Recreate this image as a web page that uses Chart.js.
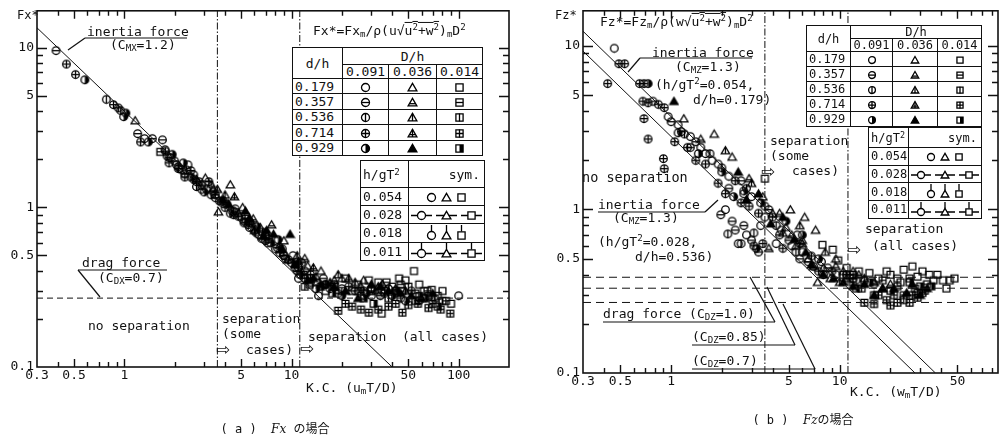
<!DOCTYPE html>
<html>
<head>
<meta charset="utf-8">
<script src="https://cdn.jsdelivr.net/npm/chart.js@4.4.1/dist/chart.umd.min.js"></script>
<style>
    body { margin: 0; width: 1006px; height: 441px; position: relative; overflow: hidden; background: #fff; color: #111; font-family: 'DejaVu Sans Mono', monospace; }
    canvas.plot { position: absolute; top: 0; }
    .t { position: absolute; white-space: nowrap; font-size: 13px; line-height: 1; transform: translateY(-50%); }
    .t sub { font-size: 70%; vertical-align: -2px; }
    .t sup { font-size: 70%; vertical-align: 5px; }
    .t.arrow { font-family: 'DejaVu Sans', sans-serif; }
    .ol { text-decoration: overline; }
    table.leg { position: absolute; border-collapse: collapse; background: #fff; font-size: 13px; table-layout: fixed; }
    table.leg td { border: 1.4px solid #111; text-align: center; padding: 0; line-height: 1; white-space: nowrap; overflow: hidden; }
    table.leg td.num { text-align: left; padding-left: 2px; }
    table.leg img { vertical-align: middle; margin: 0 2px; display: inline-block; }
    table.small { font-size: 12px; }
    table.leg sup { font-size: 70%; vertical-align: 4px; }
    .cap { position: absolute; font-size: 12px; white-space: nowrap; transform: translate(-50%, -50%); }
    .cap i { font-family: 'DejaVu Serif', serif; }
    .cap .jp { font-family: 'Noto Sans CJK JP', sans-serif; }
    svg { position: absolute; left: 0; top: 0; pointer-events: none; }
</style>
</head>
<body>
<canvas id="fxChart" class="plot" width="520" height="405" style="left:0"></canvas>
<canvas id="fzChart" class="plot" width="466" height="410" style="left:540px"></canvas>
<svg id="leaders" width="1006" height="441"></svg>

<script>
// ---- axis ticks / labels ----
const kcTicks = [0.3, 0.4, 0.5, 0.6, 0.7, 0.8, 0.9, 1, 2, 3, 4, 5, 6, 7, 8, 9, 10, 20, 30, 40, 50, 60, 70, 80, 90, 100, 200];
const kcLabels = [0.3, 0.5, 1, 5, 10, 50, 100];
const fTicks = [0.1, 0.2, 0.3, 0.4, 0.5, 0.6, 0.7, 0.8, 0.9, 1, 2, 3, 4, 5, 6, 7, 8, 9, 10];
const fLabels = [0.1, 0.5, 1, 5, 10];

// ---- legend table text ----
const dhValues = ['0.179', '0.357', '0.536', '0.714', '0.929'];
const bigDValues = ['0.091', '0.036', '0.014'];
const hgValues = ['0.054', '0.028', '0.018', '0.011'];

// ---- Fx* data  [K.C., Fx*] ----
const fxCircle = [[1.32,2.7],[1.9,2.05],[2.2,1.72],[2.4,1.85],[2.8,1.45],[3.1,1.3],[4.1,1.05],[5.0,0.88],[6.3,0.68],[8.0,0.55],[10.2,0.5],[12,0.4],[14.5,0.28],[18,0.33],[24,0.3],[38,0.31],[100,0.28],
    [1.75,2.3],[2.05,1.85],[2.6,1.6],[3.4,1.25],[4.4,0.95],[5.6,0.75],[7.0,0.66],[9.2,0.48],[11,0.36],[20,0.31],[30,0.28]];
const fxCircleH = [[0.39,9.6],[1.2,2.9],[1.47,2.7],[1.69,2.65],[2.0,1.95],[2.3,1.62],[2.6,1.5],[3.5,1.15],[4.6,0.98],[6.0,0.72],[7.2,0.6],[9.0,0.5],[11.5,0.45],[15.5,0.36],[25,0.3],[34,0.28],[52,0.3],
    [1.85,2.05],[2.15,1.75],[2.9,1.3],[3.8,1.08],[5.2,0.8],[6.6,0.64],[8.2,0.56],[10.5,0.42],[13,0.34],[19,0.29],[42,0.3]];
const fxCircleV = [[0.78,4.75],[0.95,4.05],[1.8,2.1],[2.1,1.8],[2.35,1.72],[2.7,1.35],[3.3,1.2],[3.9,1.1],[4.5,0.95],[5.6,0.8],[7.0,0.62],[8.8,0.55],[11,0.42],[13,0.36],[17,0.31],[30,0.31],[45,0.27]];
const fxCirclePlus = [[0.45,7.9],[0.51,6.8],[0.86,4.4],[0.92,4.2],[1.25,2.57],[1.76,2.25],[1.85,1.9],[2.1,1.75],[2.5,1.7],[2.9,1.38],[3.2,1.45],[4.0,1.0],[4.8,0.88],[5.5,0.78],[6.7,0.7],[8.5,0.52],[9.6,0.47],[13,0.38],[16,0.33],[22,0.32],[36,0.29],[58,0.26],
    [2.3,1.55],[2.7,1.45],[3.5,1.2],[4.5,0.9],[6.1,0.7],[7.3,0.64],[9,0.5],[10.8,0.4],[12,0.36],[27,0.3]];
const fxCircleHalf = [[0.58,6.3],[0.99,3.7],[1.02,3.9],[1.39,2.57],[1.93,2.15],[2.25,1.9],[2.5,1.55],[3.0,1.25],[3.7,1.1],[4.3,0.92],[5.2,0.82],[6.2,0.76],[7.5,0.6],[8.3,0.63],[10,0.45],[11.2,0.38],[14,0.31],[16,0.33],[20,0.28],[28,0.29],[40,0.28],[48,0.26]];
const fxTri = [[1.16,3.5],[3.05,1.53],[3.65,0.94],[4.3,1.39],[5.1,1.0],[6.5,0.75],[9.0,0.62],[12.5,0.43],[15,0.4],[20,0.36],[27,0.35],[35,0.33]];
const fxTriH = [[2.7,1.5],[3.4,1.3],[4.8,0.92],[5.9,0.85],[7.6,0.78],[9.5,0.47],[12,0.48],[18,0.35],[26,0.32],[42,0.31]];
const fxTriV = [[3.3,1.4],[4.0,1.2],[6.0,0.72],[7.0,0.7],[10.8,0.5],[14,0.37],[19,0.38],[24,0.34],[33,0.32]];
const fxTriPlus = [[3.6,1.3],[4.55,1.17],[5.8,0.8],[8.5,0.58],[11.5,0.4],[13.5,0.42],[17,0.34],[22,0.36],[32,0.3],[48,0.3]];
const fxTriFill = [[4.2,1.05],[5.3,0.95],[6.8,0.66],[7.8,0.68],[9.8,0.68],[10.5,0.44],[12.5,0.35],[13.5,0.36],[18,0.32],[21,0.3],[25,0.27],[30,0.33],[38,0.3],[45,0.29],[60,0.27],[70,0.29],
    [3.9,1.12],[5.6,0.86],[7.1,0.72],[8.8,0.55],[11,0.46],[15,0.33],[34,0.32],[52,0.28]];
const fxSq = [[12.8,0.33],[16,0.3],[21,0.36],[25,0.33],[29,0.35],[33,0.34],[34.6,0.217],[40,0.32],[44,0.36],[48,0.35],[54,0.40],[62,0.3],[69,0.305],[75,0.28],[90,0.25],
    [14,0.34],[18,0.32],[36,0.3],[46,0.3],[58,0.33],[66,0.28],[80,0.3]];
const fxSqH = [[1.64,2.23],[5.3,0.85],[11.8,0.38],[23,0.3],[30,0.3],[37,0.34],[45,0.33],[55,0.29],[65,0.3],[84,0.26]];
const fxSqV = [[12,0.32],[20,0.3],[26,0.28],[38,0.27],[50,0.32],[55,0.26],[72,0.27],[80,0.26]];
const fxSqPlus = [[19,0.226],[23,0.24],[29,0.22],[33,0.23],[42,0.25],[50,0.245],[57,0.25],[66,0.235],[78,0.23],[89,0.217],
    [21,0.25],[26,0.23],[38,0.24],[46,0.22],[70,0.25]];
const fxSqHalf = [[15,0.32],[17.5,0.29],[27,0.27],[31,0.25],[42,0.3],[58,0.28],[63,0.27],[75,0.24]];

// Fx reference lines
const fxInertiaX = [0.3, 40];
const fxInertiaY = [13.3, 0.1];
const fxDragY = 0.27;

// ---- Fz* data  [K.C., Fz*] ----
const fzCircle = [[0.46,9.7],[0.96,3.7],[1.1,3.3],[1.3,2.8],[1.5,2.4],[1.75,2.0],[2.2,1.6],[2.5,0.62],[2.7,1.25],[3.0,1.2],[3.4,0.8],[4.5,0.75],[5.2,0.6],[6,0.55],[7,0.45],
    [1.6,2.2],[1.9,1.9],[2.1,1.0],[2.8,0.7],[3.6,0.9],[4.2,0.62],[5.6,0.7],[7.8,0.48],[9.5,0.4],[12.5,0.37]];
const fzCircleH = [[0.78,4.6],[1.0,3.45],[1.15,3.0],[1.4,2.6],[1.97,0.93],[2.3,0.85],[2.6,1.5],[2.4,0.75],[3.3,0.55],[3.8,1.0],[5,0.65],[6.5,0.48],
    [1.3,2.4],[2.2,1.35],[2.7,0.8],[3.0,0.65],[4.4,0.7],[5.8,0.5],[8.5,0.44],[11,0.4],[16,0.35]];
const fzCircleV = [[1.2,2.9],[1.7,2.2],[2.0,1.8],[2.17,0.71],[2.6,0.62],[2.8,1.35],[3.1,0.72],[3.6,1.05],[4.2,0.8],[5.5,0.55],[8,0.4]];
const fzCirclePlus = [[0.42,5.9],[0.49,7.8],[0.53,7.8],[0.65,5.9],[0.69,5.9],[0.68,4.6],[0.73,4.5],[0.84,4.4],[0.91,4.2],[0.69,3.6],[0.73,2.7],[0.9,2.05],[0.91,1.78],[1.05,2.6],[1.25,2.4],[1.6,1.9],[1.9,1.45],[2.4,1.5],[2.9,1.05],[3.1,0.6],[4,0.9],[5.8,0.62],[9,0.42],
    [1.4,2.0],[2.1,1.25],[2.6,1.1],[3.3,0.95],[3.5,0.62],[4.6,0.58],[6.8,0.52],[7.5,0.42],[12,0.38]];
const fzCircleHalf = [[0.73,5.9],[1.1,2.95],[1.45,2.2],[2.0,1.7],[2.35,1.2],[2.7,1.3],[3.2,0.58],[3.4,1.1],[4.8,0.85],[6,0.7],[7.5,0.5]];
const fzTri = [[1.19,3.6],[1.8,2.9],[2.3,2.1],[3.5,1.2],[4,0.95],[5.1,1.0],[5.5,0.6],[6.5,0.5],[7.4,0.36],[8.8,0.38],[12,0.42],[6.2,0.9],[7.2,0.75],
    [9.5,0.5],[10.5,0.42],[8,0.44],[4.8,0.78],[6,0.65]];
const fzTriH = [[1.5,2.7],[2.9,1.55],[3.8,0.58],[4.4,0.95],[5.2,0.7],[6,0.62],[7,0.45],[9.5,0.45],[11,0.38],[13,0.4],[16,0.36],[20,0.35]];
const fzTriV = [[2.1,2.3],[3.0,1.45],[4.6,0.72],[5.8,0.8],[8.2,0.55],[10,0.36],[14,0.38],[18,0.33]];
const fzTriFill = [[1.04,4.6],[2.5,1.7],[3.3,1.25],[4.6,0.9],[6.3,0.55],[8,0.4],[10.5,0.36],[14,0.35],[18,0.33],[25,0.31],[30,0.3],
    [2.8,1.15],[3.9,0.82],[5.4,0.66],[6.8,0.46],[9.2,0.38],[12,0.34],[16,0.3],[21,0.33],[27,0.35],[33,0.33]];
const fzSq = [[3.6,1.55],[7.9,0.61],[9.1,0.57],[9.8,0.49],[11,0.44],[13,0.42],[15,0.41],[17,0.38],[20,0.4],[24,0.43],[27,0.45],[31,0.42],[36,0.37],[41,0.37],[45,0.37],[34,0.4],[22,0.38],
    [12,0.4],[14,0.37],[19,0.42],[23,0.36],[29,0.39],[38,0.4],[48,0.38],[43,0.33]];
const fzSqH = [[11.5,0.4],[12,0.36],[18,0.37],[22,0.34],[28,0.33],[33,0.35],[26,0.38]];
const fzSqV = [[10.5,0.4],[13.5,0.33],[16,0.3],[24,0.28],[29,0.31],[32,0.32]];
const fzSqPlus = [[14,0.27],[16,0.265],[19,0.28],[21,0.3],[24,0.3],[26,0.27],[29,0.29],
    [17,0.3],[22,0.27],[27,0.3],[31,0.31],[20,0.26]];
const fzSqHalf = [[12.5,0.33],[15,0.36],[20,0.32],[26,0.36],[30,0.34],[35,0.34]];

// Fz reference lines
const fzInertia1X = [0.3, 37];
const fzInertia1Y = [12.3, 0.1];
const fzInertia2X = [0.3, 28];
const fzInertia2Y = [9.3, 0.1];
const fzDragY = [0.385, 0.33, 0.27];

// separation boundaries (K.C.)
const sepSome = 3.6;
const sepAll = 11.2;

class ForceFigure {
    constructor() {
        this.symbols = {};
        this.buildSymbols();
        this.fxChart = this.createChart('fxChart', this.fxDatasets(), {
            xMax: 200, yMax: 17, yWidth: 37, xHeight: 38,
            padding: { top: 7, right: 11, left: 0, bottom: 0 }
        });
        this.fzChart = this.createChart('fzChart', this.fzDatasets(), {
            xMax: 87, yMax: 16.4, yWidth: 43, xHeight: 37,
            padding: { top: 10, right: 8, left: 0, bottom: 0 }
        });
        this.buildTables();
        this.addTexts();
        this.addLeaders();
    }

    makeSymbol(kind, r, tail = '') {
        const ext = 5;
        const w = Math.ceil(2 * r + 3 + (tail.includes('h') ? 2 * ext : 0));
        const h = Math.ceil(2 * r + 3 + (tail.includes('v') ? ext : 0));
        const cv = document.createElement('canvas');
        cv.width = w;
        cv.height = h;
        const ctx = cv.getContext('2d');
        const cx = w / 2;
        const cy = h - (r + 1.5);
        const shape = kind[0];
        const mark = kind[1];
        ctx.strokeStyle = '#000';
        ctx.fillStyle = '#000';
        ctx.lineWidth = 1.3;
        const outline = () => {
            ctx.beginPath();
            if (shape === 'c') ctx.arc(cx, cy, r, 0, Math.PI * 2);
            else if (shape === 't') {
                ctx.moveTo(cx, cy - r * 1.05);
                ctx.lineTo(cx + r * 1.1, cy + r * 0.85);
                ctx.lineTo(cx - r * 1.1, cy + r * 0.85);
                ctx.closePath();
            } else ctx.rect(cx - r * 0.9, cy - r * 0.9, r * 1.8, r * 1.8);
        };
        if (mark === '4') {
            ctx.save();
            outline();
            ctx.clip();
            if (shape === 't') ctx.fillRect(0, 0, w, h);
            else ctx.fillRect(cx, 0, w, h);
            ctx.restore();
        }
        outline();
        ctx.stroke();
        ctx.beginPath();
        const lineY = shape === 't' ? cy + r * 0.3 : cy;
        const half = shape === 't' ? r * 0.75 : r * 0.9;
        if (mark === '1' || mark === '3') {
            ctx.moveTo(cx - half, lineY);
            ctx.lineTo(cx + half, lineY);
        }
        if (mark === '2' || mark === '3') {
            ctx.moveTo(cx, cy - r);
            ctx.lineTo(cx, cy + (shape === 't' ? r * 0.85 : r));
        }
        ctx.stroke();
        if (tail) {
            const side = shape === 't' ? r * 0.6 : r * 0.9;
            ctx.beginPath();
            if (tail.includes('h')) {
                ctx.moveTo(0, cy);
                ctx.lineTo(cx - side, cy);
                ctx.moveTo(cx + side, cy);
                ctx.lineTo(w, cy);
            }
            if (tail.includes('v')) {
                ctx.moveTo(cx, 0);
                ctx.lineTo(cx, cy - r);
            }
            ctx.stroke();
        }
        return cv;
    }

    buildSymbols() {
        ['c', 't', 's'].forEach(shape => {
            for (let i = 0; i < 5; i++) {
                this.symbols[shape + i] = this.makeSymbol(shape + i, 3.8);
            }
        });
    }

    points(list) {
        return list.map(p => ({ x: p[0], y: p[1] }));
    }

    scatterSet(list, kind) {
        return {
            data: this.points(list),
            pointStyle: this.symbols[kind],
            showLine: false
        };
    }

    lineSet(xs, ys, dash, width = 1) {
        return {
            data: xs.map((x, i) => ({ x: x, y: ys[i] })),
            showLine: true,
            pointRadius: 0,
            borderColor: '#111',
            borderWidth: width,
            borderDash: dash
        };
    }

    fxDatasets() {
        return [
            this.lineSet(fxInertiaX, fxInertiaY, []),
            this.lineSet([0.3, 200], [fxDragY, fxDragY], [6, 4]),
            this.lineSet([sepSome, sepSome], [0.1, 17], [7, 2, 1.5, 2]),
            this.lineSet([sepAll, sepAll], [0.1, 17], [7, 2, 1.5, 2]),
            this.scatterSet(fxCircle, 'c0'),
            this.scatterSet(fxCircleH, 'c1'),
            this.scatterSet(fxCircleV, 'c2'),
            this.scatterSet(fxCirclePlus, 'c3'),
            this.scatterSet(fxCircleHalf, 'c4'),
            this.scatterSet(fxTri, 't0'),
            this.scatterSet(fxTriH, 't1'),
            this.scatterSet(fxTriV, 't2'),
            this.scatterSet(fxTriPlus, 't3'),
            this.scatterSet(fxTriFill, 't4'),
            this.scatterSet(fxSq, 's0'),
            this.scatterSet(fxSqH, 's1'),
            this.scatterSet(fxSqV, 's2'),
            this.scatterSet(fxSqPlus, 's3'),
            this.scatterSet(fxSqHalf, 's4')
        ];
    }

    fzDatasets() {
        return [
            this.lineSet(fzInertia1X, fzInertia1Y, []),
            this.lineSet(fzInertia2X, fzInertia2Y, []),
            ...fzDragY.map(v => this.lineSet([0.3, 87], [v, v], [8, 5])),
            this.lineSet([sepSome, sepSome], [0.1, 16.4], [7, 2, 1.5, 2]),
            this.lineSet([sepAll, sepAll], [0.1, 16.4], [7, 2, 1.5, 2]),
            this.scatterSet(fzCircle, 'c0'),
            this.scatterSet(fzCircleH, 'c1'),
            this.scatterSet(fzCircleV, 'c2'),
            this.scatterSet(fzCirclePlus, 'c3'),
            this.scatterSet(fzCircleHalf, 'c4'),
            this.scatterSet(fzTri, 't0'),
            this.scatterSet(fzTriH, 't1'),
            this.scatterSet(fzTriV, 't2'),
            this.scatterSet(fzTriFill, 't4'),
            this.scatterSet(fzSq, 's0'),
            this.scatterSet(fzSqH, 's1'),
            this.scatterSet(fzSqV, 's2'),
            this.scatterSet(fzSqPlus, 's3'),
            this.scatterSet(fzSqHalf, 's4')
        ];
    }

    // box + inward ticks on all four sides
    framePlugin() {
        return {
            id: 'frame',
            afterDatasetsDraw(chart) {
                const { ctx, chartArea: a, scales } = chart;
                ctx.save();
                ctx.strokeStyle = '#111';
                ctx.lineWidth = 1.6;
                ctx.strokeRect(a.left, a.top, a.right - a.left, a.bottom - a.top);
                ctx.lineWidth = 1.4;
                ctx.beginPath();
                scales.x.ticks.forEach(t => {
                    const px = Math.round(scales.x.getPixelForValue(t.value)) + 0.5;
                    if (px <= a.left + 1 || px >= a.right - 1) return;
                    const len = kcLabels.includes(t.value) ? 8 : 5;
                    ctx.moveTo(px, a.bottom);
                    ctx.lineTo(px, a.bottom - len);
                    ctx.moveTo(px, a.top);
                    ctx.lineTo(px, a.top + len);
                });
                scales.y.ticks.forEach(t => {
                    const py = Math.round(scales.y.getPixelForValue(t.value)) + 0.5;
                    if (py <= a.top + 1 || py >= a.bottom - 1) return;
                    const len = fLabels.includes(t.value) ? 10 : 6;
                    ctx.moveTo(a.left, py);
                    ctx.lineTo(a.left + len, py);
                    ctx.moveTo(a.right, py);
                    ctx.lineTo(a.right - len, py);
                });
                ctx.stroke();
                ctx.restore();
            }
        };
    }

    createChart(canvasId, datasets, cfg) {
        const font = { family: 'DejaVu Sans Mono', size: 13 };
        const ctx = document.getElementById(canvasId).getContext('2d');
        return new Chart(ctx, {
            type: 'scatter',
            data: { datasets: datasets },
            options: {
                responsive: false,
                animation: false,
                devicePixelRatio: 1,
                layout: { padding: cfg.padding },
                plugins: {
                    legend: { display: false },
                    tooltip: { enabled: false }
                },
                scales: {
                    x: {
                        type: 'logarithmic',
                        min: 0.3,
                        max: cfg.xMax,
                        afterFit: s => { s.height = cfg.xHeight; },
                        afterBuildTicks: s => { s.ticks = kcTicks.filter(v => v <= cfg.xMax).map(v => ({ value: v })); },
                        ticks: {
                            autoSkip: false,
                            maxRotation: 0,
                            padding: 1,
                            color: '#111',
                            font: font,
                            callback: v => (kcLabels.includes(v) && v <= 100 ? String(v) : '')
                        },
                        grid: { display: false, drawTicks: false },
                        border: { display: false }
                    },
                    y: {
                        type: 'logarithmic',
                        min: 0.1,
                        max: cfg.yMax,
                        afterFit: s => { s.width = cfg.yWidth; },
                        afterBuildTicks: s => { s.ticks = fTicks.map(v => ({ value: v })); },
                        ticks: {
                            autoSkip: false,
                            padding: 3,
                            color: '#111',
                            font: font,
                            callback: v => (fLabels.includes(v) ? String(v) : '')
                        },
                        grid: { display: false, drawTicks: false },
                        border: { display: false }
                    }
                }
            },
            plugins: [this.framePlugin()]
        });
    }

    symImg(kind, r, tail) {
        return `<img src="${this.makeSymbol(kind, r, tail).toDataURL()}">`;
    }

    makeTable(cls, left, top, colWidths, headH, rowH, r) {
        const t = document.createElement('table');
        t.className = cls;
        t.style.left = left + 'px';
        t.style.top = top + 'px';
        let html = `<colgroup>${colWidths.map(w => `<col style="width:${w}px">`).join('')}</colgroup>`;
        html += `<tr style="height:${headH[0]}px"><td rowspan="2">d/h</td><td colspan="3">D/h</td></tr>`;
        html += `<tr style="height:${headH[1]}px">${bigDValues.map(v => `<td>${v}</td>`).join('')}</tr>`;
        dhValues.forEach((dh, i) => {
            html += `<tr style="height:${rowH}px"><td class="num">${dh}</td>` +
                ['c', 't', 's'].map(s => `<td>${this.symImg(s + i, r, '')}</td>`).join('') + '</tr>';
        });
        t.innerHTML = html;
        document.body.appendChild(t);
    }

    makeSymTable(cls, left, top, colWidths, headH, rowH, r) {
        const tails = ['', 'h', 'v', 'hv'];
        const t = document.createElement('table');
        t.className = cls;
        t.style.left = left + 'px';
        t.style.top = top + 'px';
        let html = `<colgroup>${colWidths.map(w => `<col style="width:${w}px">`).join('')}</colgroup>`;
        html += `<tr style="height:${headH}px"><td class="num">h/gT<sup>2</sup></td><td style="text-align:right;padding-right:4px">sym.</td></tr>`;
        hgValues.forEach((v, i) => {
            html += `<tr style="height:${rowH}px"><td class="num">${v}</td><td>` +
                ['c0', 't0', 's0'].map(k => this.symImg(k, r, tails[i])).join('') + '</td></tr>';
        });
        t.innerHTML = html;
        document.body.appendChild(t);
    }

    buildTables() {
        this.makeTable('leg', 292, 47, [50, 46, 48, 46], [17, 14], 15.4, 4);
        this.makeSymTable('leg', 360, 160, [48, 64], 27, 18.2, 4);
        this.makeTable('leg small', 806, 25, [44, 42, 45, 44], [12, 12], 15, 3.4);
        this.makeSymTable('leg small', 868, 127, [40, 66], 20, 17.7, 3.5);
    }

    text(html, x, y, size, cls = '') {
        const d = document.createElement('div');
        d.className = 't ' + cls;
        d.style.left = x + 'px';
        d.style.top = y + 'px';
        if (size) d.style.fontSize = size + 'px';
        d.innerHTML = html;
        document.body.appendChild(d);
    }

    addTexts() {
        // (a) Fx
        this.text('Fx*', 17, 15, 12);
        this.text('inertia force', 87, 31);
        this.text('(C<sub>MX</sub>=1.2)', 110, 46);
        this.text('Fx*=Fx<sub>m</sub>/ρ(u√<span class="ol">u<sup>2</sup>+w<sup>2</sup></span>)<sub>m</sub>D<sup>2</sup>', 313, 31);
        this.text('drag force', 82, 262);
        this.text('(C<sub>DX</sub>=0.7)', 98, 279);
        this.text('no separation', 88, 325);
        this.text('separation', 222, 318);
        this.text('(some', 222, 333);
        this.text('cases)', 246, 349);
        this.text('⇨', 216, 349, 17, 'arrow');
        this.text('⇨', 300, 348, 17, 'arrow');
        this.text('separation&nbsp;&nbsp;(all cases)', 308, 336);
        this.text('K.C. (u<sub>m</sub>T/D)', 306, 389);

        // (b) Fz
        this.text('Fz*', 555, 15, 12);
        this.text('Fz*=Fz<sub>m</sub>/ρ(w√<span class="ol">u<sup>2</sup>+w<sup>2</sup></span>)<sub>m</sub>D<sup>2</sup>', 600, 22);
        this.text('inertia force', 652, 52);
        this.text('(C<sub>MZ</sub>=1.3)', 675, 68);
        this.text('(h/gT<sup>2</sup>=0.054,', 655, 84);
        this.text('d/h=0.179)', 693, 99);
        this.text('no separation', 582, 178, 13.5);
        this.text('inertia force', 598, 204);
        this.text('(C<sub>MZ</sub>=1.3)', 613, 219);
        this.text('(h/gT<sup>2</sup>=0.028,', 598, 241);
        this.text('d/h=0.536)', 635, 256);
        this.text('drag force (C<sub>DZ</sub>=1.0)', 603, 315);
        this.text('(C<sub>DZ</sub>=0.85)', 692, 338);
        this.text('(C<sub>DZ</sub>=0.7)', 692, 362);
        this.text('separation', 770, 140);
        this.text('(some', 770, 155);
        this.text('cases)', 792, 170);
        this.text('⇨', 761, 171, 17, 'arrow');
        this.text('separation', 865, 228);
        this.text('(all cases)', 872, 245);
        this.text('⇨', 847, 249, 17, 'arrow');
        this.text('K.C. (w<sub>m</sub>T/D)', 850, 393);

        const capA = document.createElement('div');
        capA.className = 'cap';
        capA.style.left = '275px';
        capA.style.top = '427px';
        capA.innerHTML = '( a )&nbsp;&nbsp;<i>Fx</i> <span class="jp">の場合</span>';
        document.body.appendChild(capA);
        const capB = document.createElement('div');
        capB.className = 'cap';
        capB.style.left = '803px';
        capB.style.top = '418px';
        capB.innerHTML = '( b )&nbsp;&nbsp;<i>Fz</i><span class="jp">の場合</span>';
        document.body.appendChild(capB);
    }

    addLeaders() {
        const segs = [
            [85, 38, 187, 38], [85, 38, 68, 50],
            [78, 270, 167, 270], [78, 270, 100, 297],
            [640, 58, 752, 58], [640, 58, 628, 72],
            [598, 212, 705, 212], [705, 212, 718, 200],
            [603, 322, 775, 322], [775, 322, 750, 277],
            [692, 345, 795, 345], [795, 345, 767, 287],
            [692, 369, 815, 369], [815, 369, 783, 304]
        ];
        const svg = document.getElementById('leaders');
        svg.innerHTML = segs.map(s =>
            `<line x1="${s[0]}" y1="${s[1]}" x2="${s[2]}" y2="${s[3]}" stroke="#111" stroke-width="1.2"/>`).join('');
    }
}

document.addEventListener('DOMContentLoaded', () => {
    new ForceFigure();
});
</script>
</body>
</html>
